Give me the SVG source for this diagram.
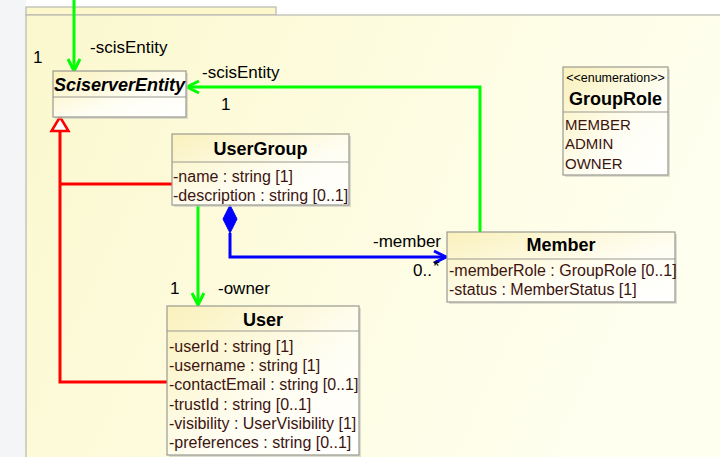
<svg xmlns="http://www.w3.org/2000/svg" width="720" height="457" viewBox="0 0 720 457">
<defs>
<linearGradient id="frameG" x1="0" y1="0" x2="1" y2="0.3">
<stop offset="0" stop-color="#fbf8ce"/>
<stop offset="1" stop-color="#fffff0"/>
</linearGradient>
<linearGradient id="boxG" x1="0" y1="0" x2="1" y2="1">
<stop offset="0" stop-color="#faf1bc"/>
<stop offset="0.6" stop-color="#fffef4"/>
<stop offset="1" stop-color="#ffffff"/>
</linearGradient>
<marker id="openArrowG" markerWidth="16" markerHeight="16" refX="14" refY="8" orient="auto" markerUnits="userSpaceOnUse">
<path d="M2,2 L14,8 L2,14" fill="none" stroke="#00ff00" stroke-width="3"/>
</marker>
<marker id="openArrowB" markerWidth="16" markerHeight="16" refX="14" refY="8" orient="auto" markerUnits="userSpaceOnUse">
<path d="M2,2 L14,8 L2,14" fill="none" stroke="#0000ff" stroke-width="3"/>
</marker>
</defs>
<style>
.box{fill:url(#boxG);stroke:#9a9a90;stroke-width:1.2}
.shadow{fill:#c8c8c0;opacity:0.6}
.div{stroke:#9a9a90;stroke-width:1.2}
.title{font-family:"Liberation Sans",Arial,sans-serif;font-weight:bold;font-size:18px;fill:#000}
.attr{font-family:"Liberation Sans",Arial,sans-serif;font-size:16px;fill:#3c1410}
.lit{font-family:"Liberation Sans",Arial,sans-serif;font-size:15px;fill:#3c1410}
.lbl{font-family:"Liberation Sans",Arial,sans-serif;font-size:17px;fill:#000}
.stereo{font-family:"Liberation Sans",Arial,sans-serif;font-size:12.5px;fill:#000}
.g{fill:none;stroke:#00ff00;stroke-width:3}
.r{fill:none;stroke:#ff0000;stroke-width:3}
.b{fill:none;stroke:#0000ff;stroke-width:3}
</style>
<rect x="0" y="0" width="720" height="457" fill="#ffffff"/>
<rect x="0" y="0" width="26" height="457" fill="#f4f5f6"/>
<g id="frame">
<rect x="26" y="7" width="250" height="8" fill="#fcf8cc" stroke="#b8b8b0" stroke-width="1.2"/>
<rect x="26" y="15" width="700" height="450" fill="url(#frameG)" stroke="#b8b8b0" stroke-width="1.2"/>
</g>
<g id="connectors">
<line class="g" x1="74" y1="0" x2="74" y2="71" marker-end="url(#openArrowG)"/>
<polyline class="g" points="480,232 480,87 187,87" marker-end="url(#openArrowG)"/>
<line class="g" x1="198" y1="205" x2="198" y2="305" marker-end="url(#openArrowG)"/>
<polyline class="r" points="60,131 60,382 167,382"/>
<line class="r" x1="60" y1="184" x2="172" y2="184"/>
<polygon points="60,117 68.5,131 51.5,131" fill="#ffffff" stroke="#ff0000" stroke-width="2.5"/>
<polyline class="b" points="230,233 230,257 446,257" marker-end="url(#openArrowB)"/>
<polygon points="230,205 237,219 230,233 223,219" fill="#0000ff" stroke="#0000ff" stroke-width="1"/>
<text class="lbl" x="33" y="63">1</text>
<text class="lbl" x="90" y="53">-scisEntity</text>
<text class="lbl" x="202" y="78">-scisEntity</text>
<text class="lbl" x="221" y="110">1</text>
<text class="lbl" x="170" y="294">1</text>
<text class="lbl" x="218" y="294">-owner</text>
<text class="lbl" x="373" y="247">-member</text>
<text class="lbl" x="413" y="276">0..</text>
<text class="lbl" x="433" y="272" font-size="12">*</text>
</g>
<g id="SciserverEntity">
<rect class="shadow" x="55" y="73" width="133" height="46"/>
<rect class="box" x="53" y="71" width="133" height="46"/>
<line class="div" x1="53" y1="97" x2="186" y2="97"/>
<text class="title" x="119.5" y="91" text-anchor="middle" font-style="italic">SciserverEntity</text>
</g>
<g id="GroupRole">
<rect class="shadow" x="565" y="69" width="105" height="108"/>
<rect class="box" x="563" y="67" width="105" height="108"/>
<line class="div" x1="563" y1="112" x2="668" y2="112"/>
<text class="stereo" x="615.5" y="82" text-anchor="middle">&lt;&lt;enumeration&gt;&gt;</text>
<text class="title" x="615.5" y="105" text-anchor="middle">GroupRole</text>
<text class="lit" x="565" y="130">MEMBER</text>
<text class="lit" x="565" y="149">ADMIN</text>
<text class="lit" x="565" y="169">OWNER</text>
</g>
<g id="UserGroup">
<rect class="shadow" x="174" y="136" width="177" height="71"/>
<rect class="box" x="172" y="134" width="177" height="71"/>
<line class="div" x1="172" y1="162" x2="349" y2="162"/>
<text class="title" x="260.5" y="155" text-anchor="middle">UserGroup</text>
<text class="attr" x="173" y="182">-name : string [1]</text>
<text class="attr" x="173" y="201">-description : string [0..1]</text>
</g>
<g id="Member">
<rect class="shadow" x="449" y="234" width="228" height="70"/>
<rect class="box" x="447" y="232" width="228" height="70"/>
<line class="div" x1="447" y1="259" x2="675" y2="259"/>
<text class="title" x="561" y="251" text-anchor="middle">Member</text>
<text class="attr" x="449" y="276">-memberRole : GroupRole [0..1]</text>
<text class="attr" x="449" y="295">-status : MemberStatus [1]</text>
</g>
<g id="User">
<rect class="shadow" x="169" y="308" width="192" height="149"/>
<rect class="box" x="167" y="306" width="192" height="149"/>
<line class="div" x1="167" y1="331" x2="359" y2="331"/>
<text class="title" x="263" y="326" text-anchor="middle">User</text>
<text class="attr" x="169" y="352">-userId : string [1]</text>
<text class="attr" x="169" y="371">-username : string [1]</text>
<text class="attr" x="169" y="390">-contactEmail : string [0..1]</text>
<text class="attr" x="169" y="410">-trustId : string [0..1]</text>
<text class="attr" x="169" y="429">-visibility : UserVisibility [1]</text>
<text class="attr" x="169" y="448">-preferences : string [0..1]</text>
</g>
</svg>
